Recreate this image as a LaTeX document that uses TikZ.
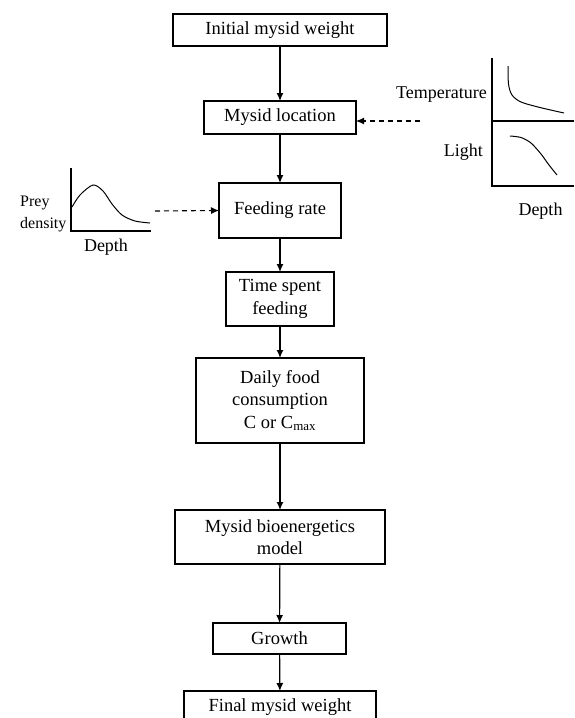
\documentclass[tikz,border=0pt]{standalone}
\usepackage{fontspec}
\setmainfont{Liberation Serif}
\usetikzlibrary{arrows.meta}

\tikzset{
  box/.style={draw, line width=1.1pt, inner sep=0pt, outer sep=0pt, align=center,
    font=\fontsize{18.5}{22.5}\selectfont},
  lbl/.style={inner sep=0pt, font=\fontsize{18}{22}\selectfont},
  flow/.style={->, line width=1.2pt},
  dashflow/.style={->, line width=1.1pt, dash pattern=on 5pt off 4pt},
  axis/.style={line width=1.1pt},
  curve/.style={line width=1pt}
}

\begin{document}
\begin{tikzpicture}[x=1pt, y=-1pt, >={Latex[length=8pt,width=7pt]}]

        \clip (0,0) rectangle (574,718);

        % Main chain of boxes
        \node[box, minimum width=214pt, minimum height=32pt] (init) at (280,30) {Initial mysid weight};
        \node[box, minimum width=152pt, minimum height=33pt] (loc) at (280,117.5) {Mysid location};
        \node[box, minimum width=122pt, minimum height=55pt] (feed) at (280,210.5) {Feeding rate};
        \node[box, minimum width=108pt, minimum height=54pt] (time) at (280,299) {Time spent\\feeding};
        \node[box, minimum width=168pt, minimum height=85pt] (daily) at (280,400.5) {Daily food\\consumption\\C or C\textsubscript{max}};
        \node[box, minimum width=210pt, minimum height=54pt] (bio) at (280,537) {Mysid bioenergetics\\model};
        \node[box, minimum width=133pt, minimum height=31pt] (growth) at (279.5,638.5) {Growth};
        \node[box, minimum width=192pt, minimum height=32pt] (final) at (280,707) {Final mysid weight};

        % Arrows down the chain
        \draw[flow] (init) -- (loc);
        \draw[flow] (loc) -- (feed);
        \draw[flow] (feed) -- (time);
        \draw[flow] (time) -- (daily);
        \draw[flow] (daily) -- (bio);
        \draw[flow] (bio) -- (growth);
        \draw[flow] (growth) -- (final);

        % Temperature and light vs depth
        \draw[axis] (492,58) -- (492,186) -- (574,186);
        \draw[axis] (492,121) -- (574,121);
        \draw[curve] plot[smooth] coordinates {(508,66) (508.5,84) (512,95) (521,102) (540,107.5) (564,113)};
        \draw[curve] plot[smooth] coordinates {(510,136) (521,137.5) (531,143) (541,154) (549,165) (557,175)};
        \node[lbl, anchor=east] (templbl) at (487,95) {Temperature};
        \node[lbl, anchor=east] (lightlbl) at (483,152) {Light};
        \node[lbl] (depthR) at (540.5,211) {Depth};

        \coordinate (tempsrc) at (420,121);
        \draw[dashflow] (tempsrc) -- (tempsrc -| loc.east);

        % Prey density vs depth
        \draw[axis] (71,168) -- (71,231) -- (151,231);
        \draw[curve] plot[smooth] coordinates {(72,207) (80,195) (93,185) (103,191) (112,204) (122,215) (135,221) (150,223)};
        \node[lbl, align=left, anchor=west, font=\fontsize{16}{22}\selectfont] (preylbl) at (20,214) {Prey\\density};
        \node[lbl] (depthL) at (106,247) {Depth};

        \coordinate (preysrc) at (155,211);
        \draw[dashflow] (preysrc) -- (feed.west);

\end{tikzpicture}
\end{document}
